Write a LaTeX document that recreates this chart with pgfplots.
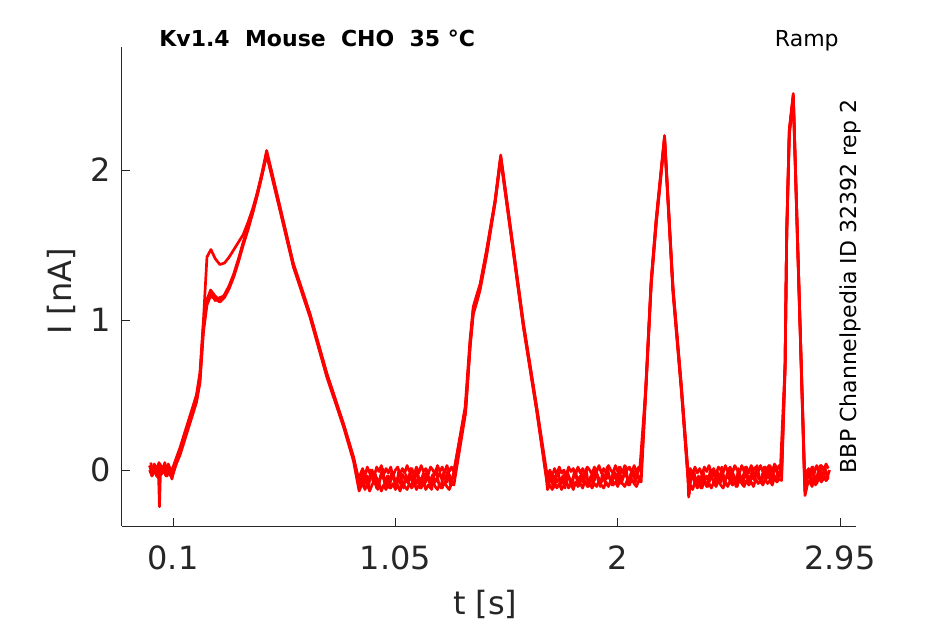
\documentclass[border=0pt]{standalone}
\usepackage{pgfplots}
\pgfplotsset{compat=1.18}
\usepackage{fontspec}
\setmainfont{DejaVu Sans}
\definecolor{axgray}{HTML}{262626}
\tikzset{trace/.style={red, line width=1.35pt, mark=none, line join=round}}
\begin{document}
\begin{tikzpicture}[x=1pt,y=1pt]
\begin{axis}[
  at={(0,0)}, anchor=south west,
  scale only axis, width=367pt, height=239.5pt,
  xmin=-0.118, xmax=3.018, ymin=-0.373, ymax=2.82,
  clip=false,
  axis lines=left, axis line style={-, draw=axgray, line width=0.5pt},
  tick align=inside, major tick length=3.8pt,
  tick style={draw=axgray, line width=0.5pt},
  xtick={0.1,1.05,2,2.95}, xticklabels={0.1,1.05,2,2.95},
  ytick={0,1,2}, yticklabels={0,1,2},
  ticklabel style={font=\fontsize{16}{19}\selectfont, text=axgray},
  xticklabel style={yshift=-6.5pt},
  yticklabel style={xshift=-2.2pt},
  xlabel={t [s]}, ylabel={I [nA]},
  label style={font=\fontsize{16}{19}\selectfont, text=axgray},
  xlabel style={at={(axis description cs:0.495,-0.163)}, anchor=center},
  ylabel style={at={(axis description cs:-0.082,0.49)}, anchor=center},
]
% trace A
\addplot[trace] coordinates {
(0.00,0.03)(0.01,-0.01)(0.02,0.04)(0.03,0.0)(0.04,0.05)(0.05,-0.02)(0.06,0.03)(0.07,0.01)(0.08,0.04)(0.09,-0.01)(0.10,0.02)
(0.13,0.15)(0.17,0.35)(0.20,0.50)(0.215,0.65)(0.23,1.0)(0.245,1.42)(0.262,1.47)(0.28,1.41)(0.30,1.37)(0.32,1.38)(0.34,1.42)(0.36,1.47)(0.38,1.52)(0.40,1.57)(0.42,1.65)(0.44,1.74)(0.46,1.85)(0.48,1.98)(0.50,2.13)
(0.52,2.0)(0.557,1.755)(0.614,1.378)(0.685,1.044)(0.757,0.645)(0.828,0.311)(0.871,0.089)(0.893,-0.06)
(0.90,-0.03)(0.91,0.01)(0.92,-0.04)(0.93,0.02)(0.94,-0.02)(0.95,0.0)(0.96,-0.04)(0.97,0.02)(0.98,-0.01)(0.99,0.03)(1.00,-0.03)(1.01,0.01)(1.02,-0.02)(1.03,0.02)(1.04,-0.04)(1.05,0.0)(1.06,0.02)(1.07,-0.03)(1.08,0.01)(1.09,-0.02)(1.10,0.03)(1.11,-0.01)(1.12,0.01)(1.13,-0.03)(1.14,0.02)(1.15,-0.02)(1.16,0.03)(1.17,-0.01)(1.18,0.01)(1.19,-0.03)(1.20,0.02)(1.21,0.0)(1.22,-0.03)(1.23,0.03)(1.24,-0.01)(1.25,0.02)(1.26,-0.02)(1.27,0.03)(1.28,-0.01)(1.29,0.02)(1.30,-0.01)
(1.348,0.42)(1.369,0.87)(1.383,1.09)(1.40,1.18)(1.412,1.24)(1.44,1.47)(1.476,1.8)(1.50,2.1)(1.54,1.64)(1.597,0.98)(1.654,0.42)(1.697,-0.02)(1.70,-0.05)
(1.71,0.0)(1.72,-0.04)(1.73,0.01)(1.74,-0.03)(1.75,0.02)(1.76,-0.02)(1.77,0.0)(1.78,-0.04)(1.79,0.02)(1.80,-0.01)(1.81,0.01)(1.82,-0.03)(1.83,0.02)(1.84,-0.02)(1.85,0.01)(1.86,-0.03)(1.87,0.02)(1.88,0.0)(1.89,-0.03)(1.90,0.02)(1.91,-0.01)(1.92,0.03)(1.93,-0.02)(1.94,0.01)(1.95,-0.02)(1.96,0.03)(1.97,0.0)(1.98,-0.02)(1.99,0.03)(2.00,-0.01)(2.01,0.02)(2.02,-0.02)(2.03,0.03)(2.04,0.0)(2.05,0.02)(2.06,-0.02)(2.07,0.03)(2.08,-0.01)(2.09,0.02)(2.10,0.0)
(2.12,0.56)(2.143,1.27)(2.164,1.67)(2.20,2.23)(2.236,1.22)(2.272,0.56)(2.30,0.0)(2.303,-0.08)
(2.31,0.01)(2.32,-0.03)(2.33,0.02)(2.34,-0.02)(2.35,0.01)(2.36,-0.03)(2.37,0.02)(2.38,-0.01)(2.39,0.03)(2.40,-0.02)(2.41,0.01)(2.42,-0.03)(2.43,0.02)(2.44,0.0)(2.45,-0.02)(2.46,0.03)(2.47,-0.01)(2.48,0.02)(2.49,-0.02)(2.50,0.03)(2.51,0.0)(2.52,-0.02)(2.53,0.03)(2.54,-0.01)(2.55,0.02)(2.56,-0.02)(2.57,0.03)(2.58,0.0)(2.59,0.02)(2.60,-0.01)(2.61,0.03)(2.62,-0.01)(2.63,0.02)(2.64,0.0)(2.65,0.03)(2.66,-0.01)(2.67,0.04)(2.68,0.0)(2.69,0.03)(2.70,0.02)
(2.715,0.71)(2.722,1.6)(2.733,2.27)(2.75,2.51)(2.765,1.71)(2.782,0.82)(2.797,0.04)(2.80,-0.1)
(2.81,0.0)(2.82,-0.03)(2.83,0.02)(2.84,-0.02)(2.85,0.03)(2.86,-0.01)(2.87,0.03)(2.88,0.0)(2.89,0.04)(2.90,0.01)
};
% trace B
\addplot[trace] coordinates {
(0.00,0.0)(0.01,-0.04)(0.02,0.02)(0.03,-0.03)(0.038,-0.02)(0.042,-0.245)(0.046,-0.03)(0.05,-0.02)(0.06,0.02)(0.07,-0.03)(0.08,0.01)(0.09,-0.04)(0.10,-0.02)
(0.13,0.12)(0.17,0.32)(0.20,0.46)(0.215,0.6)(0.23,0.95)(0.245,1.12)(0.26,1.2)(0.28,1.16)(0.30,1.13)(0.32,1.17)(0.34,1.23)(0.36,1.31)(0.38,1.41)(0.40,1.52)(0.42,1.62)(0.44,1.72)(0.46,1.84)(0.48,1.97)(0.50,2.11)
(0.52,1.98)(0.557,1.74)(0.614,1.365)(0.685,1.03)(0.757,0.63)(0.828,0.30)(0.871,0.075)(0.895,-0.1)
(0.90,-0.08)(0.91,-0.03)(0.92,-0.09)(0.93,-0.04)(0.94,-0.07)(0.95,-0.02)(0.96,-0.08)(0.97,-0.05)(0.98,-0.09)(0.99,-0.03)(1.00,-0.06)(1.01,-0.09)(1.02,-0.04)(1.03,-0.07)(1.04,-0.02)(1.05,-0.08)(1.06,-0.05)(1.07,-0.09)(1.08,-0.03)(1.09,-0.06)(1.10,-0.08)(1.11,-0.03)(1.12,-0.07)(1.13,-0.04)(1.14,-0.09)(1.15,-0.05)(1.16,-0.07)(1.17,-0.02)(1.18,-0.08)(1.19,-0.04)(1.20,-0.07)(1.21,-0.03)(1.22,-0.08)(1.23,-0.05)(1.24,-0.02)(1.25,-0.07)(1.26,-0.04)(1.27,-0.08)(1.28,-0.03)(1.29,-0.06)(1.30,-0.04)
(1.35,0.40)(1.37,0.85)(1.383,1.06)(1.40,1.15)(1.412,1.22)(1.44,1.45)(1.476,1.79)(1.50,2.08)(1.54,1.62)(1.597,0.96)(1.654,0.40)(1.697,-0.05)(1.70,-0.1)
(1.71,-0.06)(1.72,-0.09)(1.73,-0.04)(1.74,-0.08)(1.75,-0.05)(1.76,-0.09)(1.77,-0.03)(1.78,-0.07)(1.79,-0.04)(1.80,-0.08)(1.81,-0.05)(1.82,-0.02)(1.83,-0.07)(1.84,-0.04)(1.85,-0.08)(1.86,-0.03)(1.87,-0.06)(1.88,-0.09)(1.89,-0.04)(1.90,-0.07)(1.91,-0.02)(1.92,-0.06)(1.93,-0.08)(1.94,-0.03)(1.95,-0.06)(1.96,-0.04)(1.97,-0.07)(1.98,-0.02)(1.99,-0.05)(2.00,-0.08)(2.01,-0.03)(2.02,-0.06)(2.03,-0.02)(2.04,-0.05)(2.05,-0.07)(2.06,-0.03)(2.07,-0.05)(2.08,-0.02)(2.09,-0.06)(2.10,-0.03)
(2.12,0.54)(2.143,1.25)(2.164,1.65)(2.20,2.21)(2.236,1.2)(2.272,0.54)(2.30,-0.03)(2.305,-0.16)
(2.31,-0.07)(2.32,-0.04)(2.33,-0.09)(2.34,-0.05)(2.35,-0.08)(2.36,-0.03)(2.37,-0.07)(2.38,-0.04)(2.39,-0.08)(2.40,-0.05)(2.41,-0.02)(2.42,-0.07)(2.43,-0.04)(2.44,-0.08)(2.45,-0.03)(2.46,-0.06)(2.47,-0.04)(2.48,-0.07)(2.49,-0.02)(2.50,-0.05)(2.51,-0.08)(2.52,-0.03)(2.53,-0.06)(2.54,-0.02)(2.55,-0.05)(2.56,-0.07)(2.57,-0.03)(2.58,-0.06)(2.59,-0.02)(2.60,-0.05)(2.61,-0.07)(2.62,-0.02)(2.63,-0.05)(2.64,-0.03)(2.65,-0.06)(2.66,-0.02)(2.67,-0.04)(2.68,-0.07)(2.69,-0.03)(2.70,-0.04)
(2.715,0.69)(2.722,1.58)(2.733,2.25)(2.75,2.49)(2.765,1.70)(2.782,0.80)(2.797,0.0)(2.801,-0.16)
(2.81,-0.06)(2.82,-0.03)(2.83,-0.08)(2.84,-0.04)(2.85,-0.07)(2.86,-0.02)(2.87,-0.06)(2.88,-0.03)(2.89,-0.07)(2.90,-0.04)
};
% trace C
\addplot[trace] coordinates {
(0.00,0.03)(0.01,-0.02)(0.02,0.01)(0.03,-0.04)(0.04,0.02)(0.05,-0.03)(0.06,0.0)(0.07,-0.04)(0.08,0.01)(0.09,-0.03)(0.10,-0.01)
(0.13,0.1)(0.17,0.3)(0.20,0.45)(0.215,0.58)(0.23,0.92)(0.245,1.1)(0.26,1.16)(0.28,1.14)(0.30,1.12)(0.32,1.15)(0.34,1.21)(0.36,1.29)(0.38,1.39)(0.40,1.5)(0.42,1.6)(0.44,1.71)(0.46,1.83)(0.48,1.96)(0.50,2.1)
(0.52,1.97)(0.557,1.73)(0.614,1.355)(0.685,1.02)(0.757,0.62)(0.828,0.29)(0.871,0.06)(0.895,-0.14)
(0.90,-0.12)(0.91,-0.08)(0.92,-0.13)(0.93,-0.09)(0.94,-0.14)(0.95,-0.1)(0.96,-0.07)(0.97,-0.12)(0.98,-0.09)(0.99,-0.14)(1.00,-0.1)(1.01,-0.13)(1.02,-0.08)(1.03,-0.12)(1.04,-0.09)(1.05,-0.13)(1.06,-0.1)(1.07,-0.14)(1.08,-0.08)(1.09,-0.11)(1.10,-0.13)(1.11,-0.09)(1.12,-0.12)(1.13,-0.08)(1.14,-0.13)(1.15,-0.1)(1.16,-0.12)(1.17,-0.08)(1.18,-0.13)(1.19,-0.1)(1.20,-0.12)(1.21,-0.07)(1.22,-0.11)(1.23,-0.13)(1.24,-0.09)(1.25,-0.12)(1.26,-0.08)(1.27,-0.11)(1.28,-0.13)(1.29,-0.09)(1.30,-0.1)
(1.35,0.38)(1.37,0.83)(1.383,1.04)(1.40,1.13)(1.412,1.2)(1.44,1.43)(1.476,1.78)(1.50,2.07)(1.54,1.61)(1.597,0.95)(1.654,0.39)(1.697,-0.08)(1.70,-0.13)
(1.71,-0.1)(1.72,-0.13)(1.73,-0.08)(1.74,-0.12)(1.75,-0.09)(1.76,-0.13)(1.77,-0.1)(1.78,-0.07)(1.79,-0.12)(1.80,-0.09)(1.81,-0.13)(1.82,-0.08)(1.83,-0.11)(1.84,-0.09)(1.85,-0.12)(1.86,-0.07)(1.87,-0.11)(1.88,-0.08)(1.89,-0.12)(1.90,-0.09)(1.91,-0.11)(1.92,-0.07)(1.93,-0.1)(1.94,-0.12)(1.95,-0.08)(1.96,-0.11)(1.97,-0.07)(1.98,-0.1)(1.99,-0.08)(2.00,-0.11)(2.01,-0.06)(2.02,-0.09)(2.03,-0.11)(2.04,-0.07)(2.05,-0.1)(2.06,-0.06)(2.07,-0.09)(2.08,-0.11)(2.09,-0.07)(2.10,-0.08)
(2.12,0.52)(2.143,1.23)(2.164,1.63)(2.20,2.2)(2.236,1.18)(2.272,0.52)(2.30,-0.06)(2.303,-0.18)
(2.31,-0.1)(2.32,-0.13)(2.33,-0.08)(2.34,-0.12)(2.35,-0.09)(2.36,-0.12)(2.37,-0.07)(2.38,-0.11)(2.39,-0.09)(2.40,-0.12)(2.41,-0.08)(2.42,-0.11)(2.43,-0.07)(2.44,-0.1)(2.45,-0.12)(2.46,-0.08)(2.47,-0.11)(2.48,-0.07)(2.49,-0.1)(2.50,-0.08)(2.51,-0.11)(2.52,-0.06)(2.53,-0.09)(2.54,-0.11)(2.55,-0.07)(2.56,-0.1)(2.57,-0.08)(2.58,-0.11)(2.59,-0.06)(2.60,-0.09)(2.61,-0.07)(2.62,-0.1)(2.63,-0.06)(2.64,-0.09)(2.65,-0.07)(2.66,-0.1)(2.67,-0.05)(2.68,-0.08)(2.69,-0.06)(2.70,-0.07)
(2.715,0.67)(2.722,1.56)(2.733,2.23)(2.75,2.47)(2.765,1.68)(2.782,0.78)(2.797,-0.03)(2.80,-0.17)
(2.81,-0.1)(2.82,-0.07)(2.83,-0.11)(2.84,-0.06)(2.85,-0.09)(2.86,-0.05)(2.87,-0.08)(2.88,-0.04)(2.89,-0.07)(2.90,-0.05)
};
% trace D
\addplot[trace] coordinates {
(0.005,0.05)(0.015,-0.03)(0.025,0.03)(0.035,-0.05)(0.045,0.04)(0.055,-0.01)(0.065,0.05)(0.075,-0.04)(0.085,0.02)(0.095,-0.06)(0.10,-0.03)
(0.13,0.13)(0.17,0.33)(0.20,0.48)(0.215,0.62)(0.23,0.97)(0.245,1.14)(0.26,1.19)(0.28,1.13)(0.30,1.15)(0.32,1.16)(0.34,1.22)(0.36,1.3)(0.38,1.4)(0.40,1.51)(0.42,1.61)(0.44,1.72)(0.46,1.84)(0.48,1.97)(0.50,2.11)
(0.52,1.99)(0.557,1.75)(0.614,1.37)(0.685,1.035)(0.757,0.64)(0.828,0.305)(0.871,0.08)(0.897,-0.12)
(0.905,-0.11)(0.915,-0.02)(0.925,-0.06)(0.935,-0.12)(0.945,0.0)(0.955,-0.08)(0.965,-0.03)(0.975,-0.13)(0.985,-0.05)(0.995,0.01)(1.005,-0.1)(1.015,-0.04)(1.025,-0.12)(1.035,-0.01)(1.045,-0.07)(1.055,-0.11)(1.065,0.0)(1.075,-0.06)(1.085,-0.12)(1.095,-0.03)(1.105,-0.09)(1.115,0.01)(1.125,-0.11)(1.135,-0.05)(1.145,-0.01)(1.155,-0.12)(1.165,-0.06)(1.175,-0.1)(1.185,0.0)(1.195,-0.08)(1.205,-0.13)(1.215,-0.04)(1.225,0.01)(1.235,-0.09)(1.245,-0.12)(1.255,-0.02)(1.265,-0.07)(1.275,0.0)(1.285,-0.1)(1.295,-0.05)
(1.35,0.41)(1.37,0.86)(1.383,1.08)(1.40,1.16)(1.412,1.23)(1.44,1.46)(1.476,1.79)(1.50,2.09)(1.54,1.63)(1.597,0.97)(1.654,0.41)(1.697,-0.06)(1.70,-0.12)
(1.705,-0.09)(1.715,-0.02)(1.725,-0.12)(1.735,-0.05)(1.745,0.0)(1.755,-0.1)(1.765,-0.04)(1.775,-0.12)(1.785,-0.01)(1.795,-0.07)(1.805,-0.11)(1.815,0.0)(1.825,-0.06)(1.835,-0.1)(1.845,-0.02)(1.855,-0.08)(1.865,0.01)(1.875,-0.11)(1.885,-0.04)(1.895,-0.09)(1.905,0.01)(1.915,-0.06)(1.925,-0.11)(1.935,-0.02)(1.945,-0.08)(1.955,0.02)(1.965,-0.05)(1.975,-0.1)(1.985,-0.01)(1.995,-0.07)(2.005,0.02)(2.015,-0.09)(2.025,-0.04)(2.035,0.02)(2.045,-0.1)(2.055,-0.03)(2.065,0.01)(2.075,-0.08)(2.085,-0.02)(2.095,0.02)
(2.12,0.55)(2.143,1.26)(2.164,1.66)(2.20,2.22)(2.236,1.21)(2.272,0.55)(2.30,-0.04)(2.304,-0.14)
(2.305,-0.12)(2.315,-0.05)(2.325,0.0)(2.335,-0.1)(2.345,-0.04)(2.355,-0.12)(2.365,-0.01)(2.375,-0.08)(2.385,-0.11)(2.395,0.0)(2.405,-0.06)(2.415,-0.1)(2.425,-0.01)(2.435,-0.07)(2.445,0.02)(2.455,-0.1)(2.465,-0.04)(2.475,0.01)(2.485,-0.09)(2.495,-0.03)(2.505,-0.11)(2.515,0.01)(2.525,-0.06)(2.535,-0.1)(2.545,0.02)(2.555,-0.04)(2.565,-0.09)(2.575,0.01)(2.585,-0.07)(2.595,0.03)(2.605,-0.05)(2.615,-0.09)(2.625,0.02)(2.635,-0.06)(2.645,0.03)(2.655,-0.08)(2.665,-0.02)(2.675,0.03)(2.685,-0.06)(2.695,0.01)
(2.715,0.70)(2.722,1.59)(2.733,2.26)(2.75,2.5)(2.765,1.705)(2.782,0.81)(2.797,0.02)(2.80,-0.14)
(2.805,-0.09)(2.815,0.01)(2.825,-0.06)(2.835,0.02)(2.845,-0.1)(2.855,-0.02)(2.865,0.03)(2.875,-0.07)(2.885,0.02)(2.895,-0.05)(2.905,0.0)
};
\node[anchor=base, font=\bfseries\fontsize{11}{13}\selectfont, text=black] at (rel axis cs:0.266,1) {Kv1.4~~Mouse~~CHO~~35~°C};
\node[anchor=base, font=\fontsize{11}{13}\selectfont, text=black] at (rel axis cs:0.933,1) {Ramp};
\node[rotate=90, anchor=base, font=\fontsize{11}{13}\selectfont, text=black] at (rel axis cs:1,0.5) {BBP Channelpedia ID 32392 rep 2};
\end{axis}
\pgfresetboundingbox
\useasboundingbox (-61pt,-49pt) rectangle (411.5pt,263pt);
\end{tikzpicture}
\end{document}
